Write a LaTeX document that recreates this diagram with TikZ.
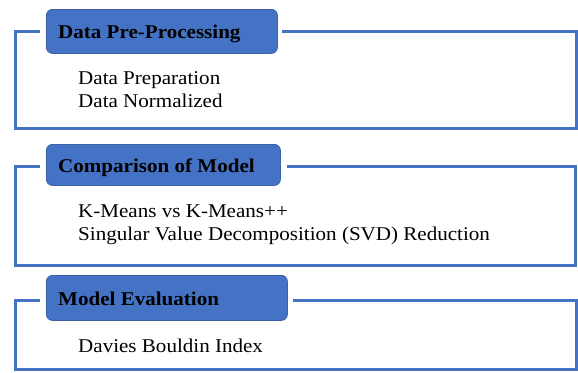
\documentclass[tikz,border=0pt]{standalone}
\usepackage{fontspec}
\setmainfont{Liberation Serif}[FakeStretch=1.08]
\definecolor{officeblue}{HTML}{4472C4}
\definecolor{headerblue}{HTML}{4472C4}
\tikzset{
  header/.style={draw=officeblue!85!black, line width=0.8pt, fill=headerblue,
    rounded corners=6pt, anchor=north west, inner sep=0pt},
  headtext/.style={anchor=base west, inner sep=0pt,
    font=\fontsize{19.5}{22}\selectfont\bfseries, text=black},
  frame/.style={draw=officeblue, line width=3pt},
  itemtext/.style={anchor=base west, inner sep=0pt,
    font=\fontsize{19.5}{22}\selectfont, text=black}
}
\begin{document}
\begin{tikzpicture}[x=1pt, y=-1pt]
  \useasboundingbox (0,0) rectangle (578,372);

  % ---- Section 1: Data Pre-Processing ----
  \coordinate (f1gl) at (40,31);
  \coordinate (f1tl) at (15,31);
  \coordinate (f1bl) at (15,128);
  \coordinate (f1br) at (576,128);
  \coordinate (f1tr) at (576,31);
  \coordinate (f1gr) at (282,31);
  \draw[frame] (f1gl) -- (f1tl) -- (f1bl) -- (f1br) -- (f1tr) -- (f1gr);
  \node[header, minimum width=231pt, minimum height=44pt] (h1) at (46,9) {};
  \node[headtext] (h1t) at (58,38) {Data Pre-Processing};
  \node[itemtext] (t11) at (78,84) {Data Preparation};
  \node[itemtext] (t12) at (78,107) {Data Normalized};

  % ---- Section 2: Comparison of Model ----
  \coordinate (f2gl) at (40,166);
  \coordinate (f2tl) at (15,166);
  \coordinate (f2bl) at (15,265);
  \coordinate (f2br) at (575,265);
  \coordinate (f2tr) at (575,166);
  \coordinate (f2gr) at (287,166);
  \draw[frame] (f2gl) -- (f2tl) -- (f2bl) -- (f2br) -- (f2tr) -- (f2gr);
  \node[header, minimum width=234pt, minimum height=41pt] (h2) at (46,144) {};
  \node[headtext] (h2t) at (58,172) {Comparison of Model};
  \node[itemtext] (t21) at (78,217) {K-Means vs K-Means++};
  \node[itemtext] (t22) at (78,240) {Singular Value Decomposition (SVD) Reduction};

  % ---- Section 3: Model Evaluation ----
  \coordinate (f3gl) at (40,300);
  \coordinate (f3tl) at (15,300);
  \coordinate (f3bl) at (15,369);
  \coordinate (f3br) at (576,369);
  \coordinate (f3tr) at (576,300);
  \coordinate (f3gr) at (293,300);
  \draw[frame] (f3gl) -- (f3tl) -- (f3bl) -- (f3br) -- (f3tr) -- (f3gr);
  \node[header, minimum width=241pt, minimum height=45pt] (h3) at (46,275) {};
  \node[headtext] (h3t) at (58,305) {Model Evaluation};
  \node[itemtext] (t31) at (78,352) {Davies Bouldin Index};
\end{tikzpicture}
\end{document}
